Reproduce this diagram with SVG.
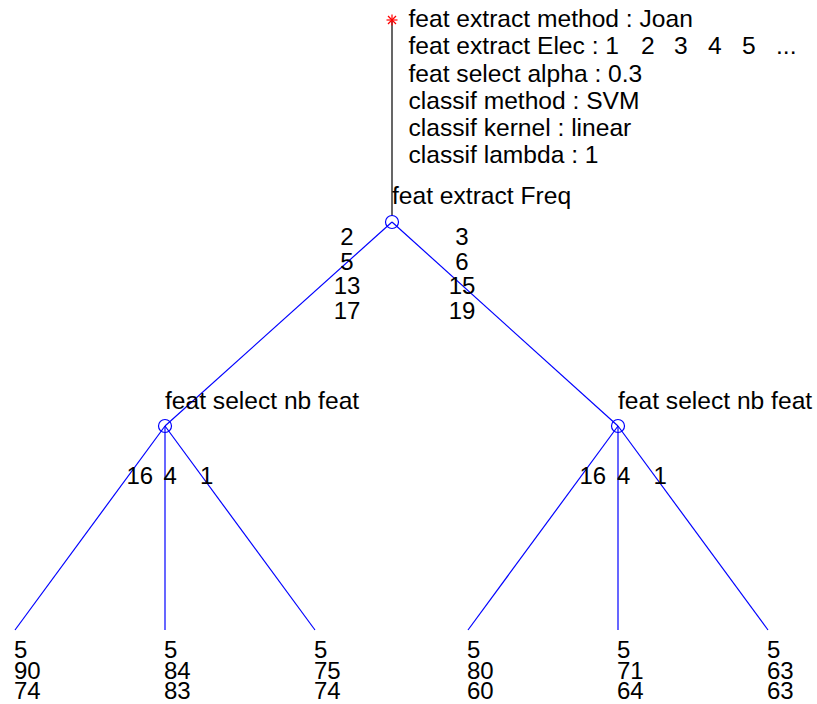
<svg xmlns="http://www.w3.org/2000/svg" width="817" height="704" viewBox="0 0 817 704">
<style>
text{font-family:"Liberation Sans",Arial,sans-serif;font-size:24px;fill:#000}
.w{font-size:24.6px}
.e{stroke:#0000ff;stroke-width:1.2;fill:none}
.n{stroke:#0000ff;stroke-width:1.2;fill:none}
.m{text-anchor:middle}
</style>
<rect width="817" height="704" fill="#fff"/>
<g id="connectors">
<line x1="392" y1="20" x2="392" y2="216" stroke="#000" stroke-width="1.2"/>
<line class="e" x1="392" y1="222" x2="165" y2="426"/>
<line class="e" x1="392" y1="222" x2="618" y2="426"/>
<line class="e" x1="165" y1="426" x2="15" y2="630"/>
<line class="e" x1="165" y1="426" x2="165" y2="630"/>
<line class="e" x1="165" y1="426" x2="315" y2="630"/>
<line class="e" x1="618" y1="426" x2="468" y2="630"/>
<line class="e" x1="618" y1="426" x2="618" y2="630"/>
<line class="e" x1="618" y1="426" x2="768" y2="630"/>
<g id="edge-labels">
<text class="m" x="347" y="245">2</text>
<text class="m" x="347" y="269.5">5</text>
<text class="m" x="347" y="294">13</text>
<text class="m" x="347" y="318.5">17</text>
<text class="m" x="462" y="245">3</text>
<text class="m" x="462" y="269.5">6</text>
<text class="m" x="462" y="294">15</text>
<text class="m" x="462" y="318.5">19</text>
<text x="126.5" y="484">16</text>
<text x="163.5" y="484">4</text>
<text x="200" y="484">1</text>
<text x="579.5" y="484">16</text>
<text x="617" y="484">4</text>
<text x="653.5" y="484">1</text>
</g>
</g>
<g id="root">
<g stroke="#ff0000" stroke-width="1.2">
<line x1="392" y1="14.5" x2="392" y2="25.5"/>
<line x1="386.5" y1="20" x2="397.5" y2="20"/>
<line x1="388" y1="16" x2="396" y2="24"/>
<line x1="388" y1="24" x2="396" y2="16"/>
</g>
<text class="w" x="408.5" y="27">feat extract method : Joan</text>
<text class="w" x="408.5" y="54">feat extract Elec : 1<tspan x="641">2</tspan><tspan x="674">3</tspan><tspan x="708">4</tspan><tspan x="742">5</tspan><tspan x="776">...</tspan></text>
<text class="w" x="408.5" y="81.5">feat select alpha : 0.3</text>
<text class="w" x="408.5" y="108.5">classif method : SVM</text>
<text class="w" x="408.5" y="136">classif kernel : linear</text>
<text class="w" x="408.5" y="163">classif lambda : 1</text>
</g>
<g id="node-freq">
<circle class="n" cx="392" cy="222" r="6.5"/>
<text class="w" x="392" y="204">feat extract Freq</text>
</g>
<g id="node-left">
<circle class="n" cx="165" cy="426" r="6.5"/>
<text class="w" x="165" y="409">feat select nb feat</text>
</g>
<g id="node-right">
<circle class="n" cx="618" cy="426" r="6.5"/>
<text class="w" x="618" y="409">feat select nb feat</text>
</g>
<g id="leaf-1"><text x="14" y="658">5</text><text x="14" y="678.5">90</text><text x="14" y="699">74</text></g>
<g id="leaf-2"><text x="164" y="658">5</text><text x="164" y="678.5">84</text><text x="164" y="699">83</text></g>
<g id="leaf-3"><text x="314" y="658">5</text><text x="314" y="678.5">75</text><text x="314" y="699">74</text></g>
<g id="leaf-4"><text x="467" y="658">5</text><text x="467" y="678.5">80</text><text x="467" y="699">60</text></g>
<g id="leaf-5"><text x="617" y="658">5</text><text x="617" y="678.5">71</text><text x="617" y="699">64</text></g>
<g id="leaf-6"><text x="767" y="658">5</text><text x="767" y="678.5">63</text><text x="767" y="699">63</text></g>
</svg>
